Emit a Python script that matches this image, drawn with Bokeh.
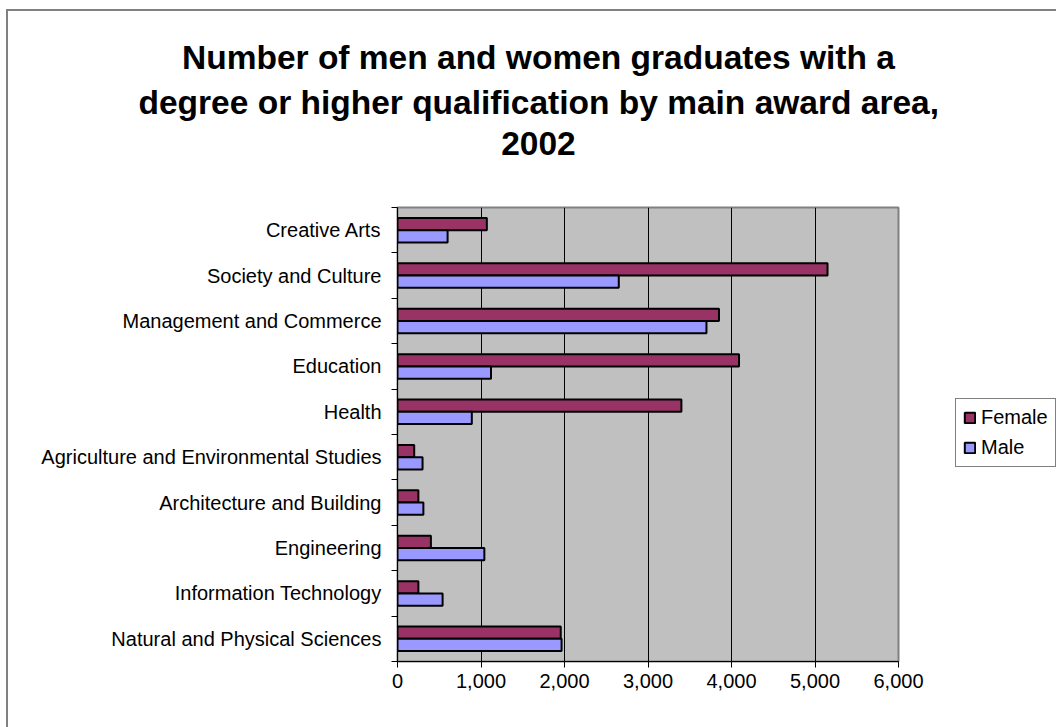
from bokeh.plotting import figure
from bokeh.layouts import row
from bokeh.models import (Legend, LegendItem, FixedTicker, NumeralTickFormatter, Title)
from bokeh.embed import file_html
from bokeh.resources import INLINE

# ---- data (top to bottom as shown) ----
categories = ["Creative Arts", "Society and Culture", "Management and Commerce",
              "Education", "Health", "Agriculture and Environmental Studies",
              "Architecture and Building", "Engineering", "Information Technology",
              "Natural and Physical Sciences"]
female = [1070, 5150, 3850, 4090, 3400, 200, 250, 400, 250, 1955]
male = [600, 2650, 3700, 1120, 890, 300, 310, 1040, 540, 1965]
x_ticks = [0, 1000, 2000, 3000, 4000, 5000, 6000]
title_lines = ["Number of men and women graduates with a",
               "degree or higher qualification by main award area,",
               "2002"]
series_names = ["Female", "Male"]
series_colors = ["#993366", "#9999FF"]

n = len(categories)
centers = [n - 1 - i + 0.5 for i in range(n)]
bounds = [float(i) for i in range(n + 1)]
bh = 0.27
y_f = [c + bh / 2 for c in centers]
y_m = [c - bh / 2 for c in centers]

FONT = "Liberation Sans"
TOP, BOTTOM = 196, 66
FRAME_H = 454

p = figure(frame_width=501, frame_height=FRAME_H, x_range=(0, 6000), y_range=(0, n),
           output_backend="svg", toolbar_location=None,
           min_border_left=389, min_border_right=47,
           min_border_top=TOP, min_border_bottom=BOTTOM)
p.title = None
p.background_fill_color = "#C0C0C0"
p.border_fill_color = "white"
p.outline_line_color = "#808080"
p.outline_line_width = 2

rf = p.hbar(y=y_f, right=female, left=0, height=bh, fill_color=series_colors[0],
            line_color="black", line_width=2)
rm = p.hbar(y=y_m, right=male, left=0, height=bh, fill_color=series_colors[1],
            line_color="black", line_width=2)

p.ygrid.grid_line_color = None
p.xgrid.grid_line_color = "black"
p.xgrid.grid_line_width = 1
p.xgrid.ticker = FixedTicker(ticks=x_ticks)

xa = p.xaxis[0]
xa.ticker = FixedTicker(ticks=x_ticks)
xa.formatter = NumeralTickFormatter(format="0,0")
xa.major_tick_in = 0
xa.major_tick_out = 6
xa.minor_tick_line_color = None
xa.major_label_standoff = 6
xa.major_label_text_font = FONT
xa.major_label_text_font_size = "20px"
xa.major_label_text_color = "black"
xa.axis_line_color = "black"
xa.major_tick_line_color = "black"

ya = p.yaxis[0]
ya.ticker = FixedTicker(ticks=centers, minor_ticks=bounds)
ya.major_label_overrides = {c: name for c, name in zip(centers, categories)}
ya.major_tick_in = 0
ya.major_tick_out = 0
ya.minor_tick_in = 0
ya.minor_tick_out = 6
ya.minor_tick_line_color = "black"
ya.major_label_standoff = 10
ya.major_label_text_font = FONT
ya.major_label_text_font_size = "20px"
ya.major_label_text_color = "black"
ya.axis_line_color = "black"

# spacer between plot area and title, then title lines (closest first)
p.add_layout(Title(text=" ", text_font_size="10px", standoff=35), "above")
offsets = [-215.5, -259.0, 103.7]
standoffs = [4, 9, 9]
for txt, off, so in reversed(list(zip(title_lines, offsets, standoffs))):
    p.add_layout(Title(text=txt, align="left", offset=off, standoff=so,
                       text_font=FONT, text_font_style="bold",
                       text_font_size="33.5px", text_color="black"), "above")

# ---------- legend strip ----------
lg = figure(frame_width=111, frame_height=FRAME_H, x_range=(0, 1), y_range=(0, 1),
            x_axis_type=None, y_axis_type=None, output_backend="svg",
            toolbar_location=None, min_border_left=0, min_border_right=0,
            min_border_top=TOP, min_border_bottom=BOTTOM)
lg.title = None
lg.outline_line_color = None
lg.background_fill_color = "white"
lg.border_fill_color = "white"
nan = float("nan")
items = []
for name, col in zip(series_names, series_colors):
    # no drawable data here: only the legend swatch uses this style
    r = lg.hbar(y=[nan], right=[nan], left=0, height=bh, fill_color=col,
                line_color="black", line_width=2)
    items.append(LegendItem(label=name, renderers=[r]))
legend = Legend(items=items, location=(10, 194), orientation="vertical",
                border_line_color="black", border_line_width=1,
                background_fill_color="white", background_fill_alpha=1,
                label_text_font=FONT, label_text_font_size="20px",
                label_text_color="black",
                glyph_width=13, glyph_height=13, label_standoff=5,
                padding=7, spacing=7, margin=0)
lg.add_layout(legend, "center")

layout = row(p, lg, spacing=0,
             styles={"margin-left": "6px", "margin-top": "9px",
                     "border-left": "2px solid #808080",
                     "border-top": "2px solid #808080"})

open("out.html", "w").write(file_html(layout, INLINE))
